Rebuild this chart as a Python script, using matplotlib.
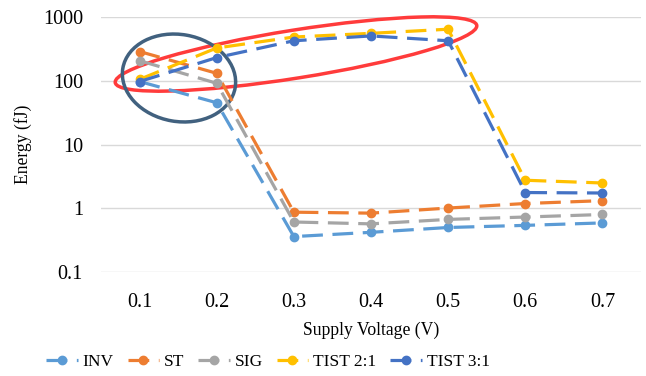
import matplotlib
matplotlib.use("Agg")
import matplotlib.pyplot as plt
from matplotlib.patches import Ellipse
from matplotlib.transforms import IdentityTransform

plt.rcParams['font.family'] = ['Liberation Serif', 'DejaVu Serif']

voltages = ["0.1", "0.2", "0.3", "0.4", "0.5", "0.6", "0.7"]
inv = [98, 45.5, 0.36, 0.42, 0.50, 0.54, 0.59]
st = [290, 132, 0.87, 0.84, 1.01, 1.19, 1.32]
sig = [208, 92, 0.61, 0.57, 0.67, 0.73, 0.80]
tist21 = [106, 330, 490, 560, 650, 2.76, 2.5]
tist31 = [98, 233, 428, 510, 428, 1.77, 1.74]

series = [("INV", inv, "#5B9BD5"), ("ST", st, "#ED7D31"), ("SIG", sig, "#A5A5A5"),
          ("TIST 2:1", tist21, "#FFC000"), ("TIST 3:1", tist31, "#4472C4")]

W, H = 646, 376
fig = plt.figure(figsize=(W / 100, H / 100), dpi=100)
ax = fig.add_axes([101 / W, 1 - 272 / H, 540 / W, (272 - 17.3) / H])

x = range(len(voltages))
for name, vals, col in series:
    ax.plot(x, vals, color=col, lw=2.3, ls=(0, (6.5, 3)), marker="o", ms=6, label=name)

ax.set_yscale("log")
ax.set_ylim(0.1, 1000)
ax.set_xlim(-0.5, len(voltages) - 0.5)
ax.set_xticks(list(x))
ax.set_xticklabels(voltages)
ax.set_yticks([0.1, 1, 10, 100, 1000])
ax.set_yticklabels(["0.1", "1", "10", "100", "1000"])
ax.minorticks_off()
ax.tick_params(length=0, labelsize=14.5)
ax.tick_params(axis="x", pad=15)
ax.tick_params(axis="y", pad=13)
ax.grid(axis="y", color="#D9D9D9", lw=1)
ax.set_axisbelow(True)
for s in ax.spines.values():
    s.set_visible(False)
ax.set_xlabel("Supply Voltage (V)", fontsize=12.7, labelpad=7)
ax.set_ylabel("Energy (fJ)", fontsize=12.7, labelpad=8)

# annotation ellipses (pixel coords)
ax.add_artist(Ellipse((296, H - 54), 366, 48, angle=9, fill=False, ec="#FF3B3B", lw=2.5,
                      transform=IdentityTransform(), clip_on=False))
ax.add_artist(Ellipse((179, H - 78), 114, 87, angle=-10, fill=False, ec="#41617F", lw=2.5,
                      transform=IdentityTransform(), clip_on=False))

fig.legend(loc="center", bbox_to_anchor=(268 / W, 1 - 362 / H), ncol=5, frameon=False,
           fontsize=12.5, handlelength=1.8, columnspacing=0.8, handletextpad=0.3)

fig.savefig("out.png", dpi=100)
